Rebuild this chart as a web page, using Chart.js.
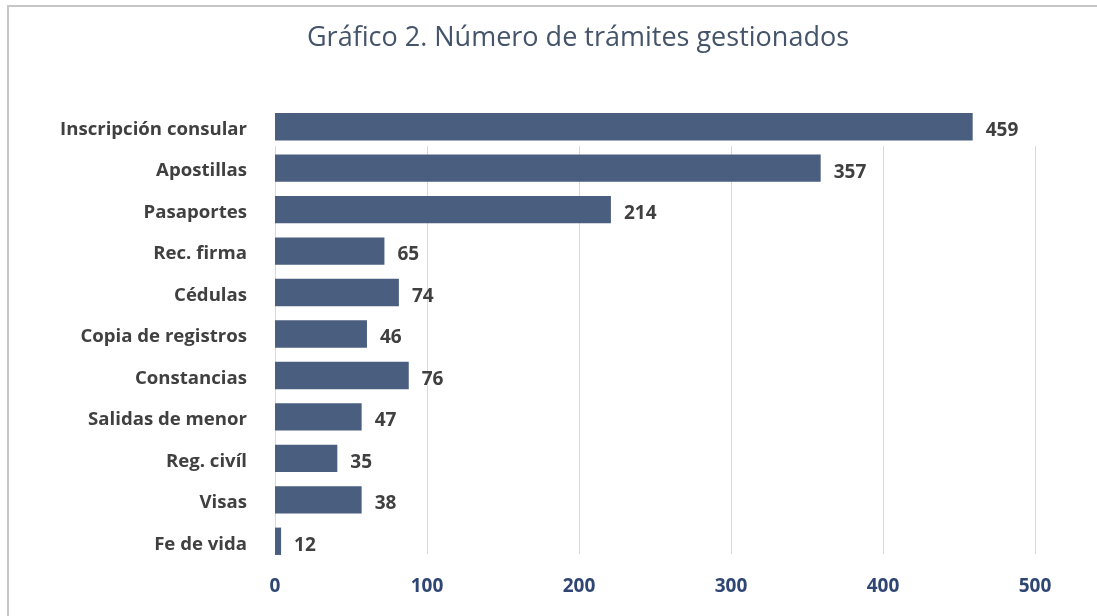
<!DOCTYPE html>
<html>
<head>
<meta charset="utf-8">
<script src="https://cdn.jsdelivr.net/npm/chart.js@4.4.0/dist/chart.umd.min.js"></script>
<style>
    html, body { margin: 0; padding: 0; background: #ffffff; overflow: hidden; }
    #wrap { position: relative; width: 1097px; height: 616px; }
    #frame {
        position: absolute; left: 7px; top: 5px; width: 1200px; height: 700px;
        border: 2px solid #c6c6c6; box-sizing: border-box; pointer-events: none;
    }
</style>
</head>
<body>
<div id="wrap">
    <canvas id="tramitesChart" width="1097" height="616"></canvas>
    <div id="frame"></div>
</div>
<script>
'use strict';

// 데이터
const categories = ['Inscripción consular', 'Apostillas', 'Pasaportes', 'Rec. firma', 'Cédulas',
    'Copia de registros', 'Constancias', 'Salidas de menor', 'Reg. civíl', 'Visas', 'Fe de vida'];
// bar lengths as drawn in the picture
const barValues = [459, 359, 221, 72, 81.5, 60.5, 88, 57, 41, 57, 4];
// numbers printed next to the bars
const labelTexts = ['459', '357', '214', '65', '74', '46', '76', '47', '35', '38', '12'];
const xTicks = [0, 100, 200, 300, 400, 500];
const chartTitle = 'Gráfico 2. Número de trámites gestionados';

const FONT = '"Open Sans", Lato, sans-serif';

// 제목 (캔버스 중앙)
const pageTitle = {
    id: 'pageTitle',
    afterDraw(chart) {
        const ctx = chart.ctx;
        ctx.save();
        ctx.font = '27px ' + FONT;
        ctx.fillStyle = '#44546a';
        ctx.textAlign = 'center';
        ctx.textBaseline = 'middle';
        ctx.fillText(chartTitle, 578, 38);
        ctx.restore();
    }
};

// 세로 눈금선 (첫 막대 아래부터 마지막 막대까지)
const gridLines = {
    id: 'gridLines',
    beforeDatasetsDraw(chart) {
        const ctx = chart.ctx;
        const xs = chart.scales.x;
        const ys = chart.scales.y;
        const step = ys.getPixelForValue(1) - ys.getPixelForValue(0);
        const top = Math.round(ys.getPixelForValue(0) + step * 0.46);
        const bottom = Math.round(ys.getPixelForValue(categories.length - 1) + step * 0.31);
        ctx.save();
        ctx.strokeStyle = '#d9d9d9';
        ctx.lineWidth = 1;
        xTicks.forEach(v => {
            const x = Math.round(xs.getPixelForValue(v)) + 0.5;
            ctx.beginPath();
            ctx.moveTo(x, top);
            ctx.lineTo(x, bottom);
            ctx.stroke();
        });
        ctx.restore();
    }
};

// 막대 끝에 숫자 표시
const barLabels = {
    id: 'barLabels',
    afterDatasetsDraw(chart) {
        const ctx = chart.ctx;
        const meta = chart.getDatasetMeta(0);
        ctx.save();
        ctx.font = 'bold 19px ' + FONT;
        ctx.fillStyle = '#404040';
        ctx.textAlign = 'left';
        ctx.textBaseline = 'middle';
        meta.data.forEach((bar, i) => {
            ctx.fillText(labelTexts[i], bar.x + 13, bar.y + 4);
        });
        ctx.restore();
    }
};

new Chart(document.getElementById('tramitesChart'), {
    type: 'bar',
    data: {
        labels: categories,
        datasets: [{
            data: barValues,
            backgroundColor: '#4a5e80',
            barPercentage: 0.66,
            categoryPercentage: 1.0
        }]
    },
    options: {
        indexAxis: 'y',
        responsive: false,
        animation: false,
        layout: { padding: { left: 0, right: 62, top: 106, bottom: 0 } },
        plugins: {
            legend: { display: false },
            tooltip: { enabled: false },
            title: { display: false }
        },
        scales: {
            x: {
                min: 0,
                max: 500,
                afterBuildTicks: scale => { scale.ticks = xTicks.map(v => ({ value: v })); },
                afterFit: scale => { scale.height = 54; },
                grid: { display: false, drawTicks: false },
                border: { display: false },
                ticks: {
                    padding: 13,
                    color: '#2f4674',
                    font: { family: FONT, size: 19, weight: 'bold' }
                }
            },
            y: {
                afterFit: scale => { scale.width = 275; },
                grid: { display: false },
                border: { display: false },
                ticks: {
                    padding: 20,
                    labelOffset: 3,
                    color: '#404040',
                    font: { family: FONT, size: 18.6, weight: 'bold' }
                }
            }
        }
    },
    plugins: [gridLines, barLabels, pageTitle]
});
</script>
</body>
</html>
